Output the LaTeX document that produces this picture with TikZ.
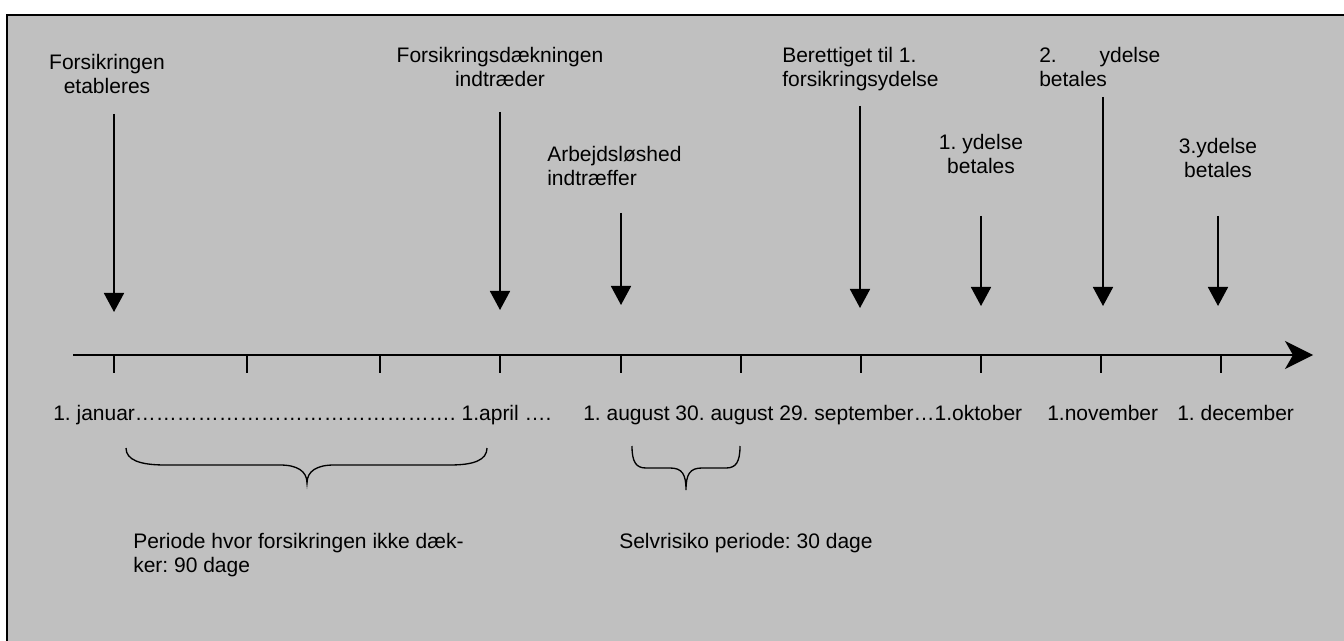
\documentclass[tikz,border=0pt]{standalone}
\usepackage{fontspec}
\setmainfont{Liberation Sans}
\usetikzlibrary{arrows.meta}
\definecolor{bggray}{HTML}{C0C0C0}
\frenchspacing
\newcommand\elp{…}
\begin{document}
\begin{tikzpicture}[x=0.75pt,y=-0.75pt,
  lbl/.style={font=\fontsize{15.75}{18}\selectfont\frenchspacing, inner sep=0pt, text=black},
  evarrow/.style={line width=1.3pt, -{Triangle[length=14.25pt,width=15pt]}},
  axis/.style={line width=1.3pt, -{Stealth[length=21pt,width=21pt,inset=6pt]}},
  tick/.style={line width=1.3pt},
  brace/.style={line width=1pt}
]
\useasboundingbox (0,0) rectangle (1344,641);
\fill[white] (0,0) rectangle (1344,641);
\fill[bggray] (7,15) rectangle (1344,641);
\draw[line width=1.6pt] (7,641) -- (7,15) -- (1344,15);

% axis
\coordinate (ax0) at (73,355);
\coordinate (ax1) at (1313,355);
\draw[axis] (ax0) -- (ax1);
\foreach \t in {114,247,380,500,621,741,861,981,1101,1221}{
  \draw[tick] (\t,355) -- (\t,373);
}

% event labels (base anchor = baseline of last line)
\node[lbl, align=center, anchor=base] (l1) at (107,94) {Forsikringen\\etableres};
\node[lbl, align=center, anchor=base] (l2) at (500,87) {Forsikringsdækningen\\indtræder};
\node[lbl, align=left, anchor=base west] (l3) at (547,186) {Arbejdsløshed\\indtræffer};
\node[lbl, align=left, anchor=base west] (l4) at (782,87) {Berettiget til 1.\\forsikringsydelse};
\node[lbl, align=center, anchor=base] (l5) at (981,174) {1. ydelse\\betales};
\node[lbl, align=left, anchor=base west] (l6) at (1039,87) {\makebox[90.75pt][l]{2.\hfill ydelse}\\betales};
\node[lbl, align=center, anchor=base] (l7) at (1218,178) {3.ydelse\\betales};

% event arrows
\coordinate (a1s) at (114,114); \coordinate (a1e) at (114,312);
\coordinate (a2s) at (500,112); \coordinate (a2e) at (500,310);
\coordinate (a3s) at (621,213); \coordinate (a3e) at (621,305);
\coordinate (a4s) at (860,106); \coordinate (a4e) at (860,308);
\coordinate (a5s) at (981,216); \coordinate (a5e) at (981,306);
\coordinate (a6s) at (1103,97); \coordinate (a6e) at (1103,306);
\coordinate (a7s) at (1218,216); \coordinate (a7e) at (1218,306);
\foreach \i in {1,...,7}{ \draw[evarrow] (a\i s) -- (a\i e); }

% dates
\node[lbl, anchor=base west] (d1) at (53,420) {1. januar\elp\elp\elp\elp\elp\elp\elp\elp\elp\elp\elp\elp\elp\elp\elp. 1.april \elp.};
\node[lbl, anchor=base west] (d2) at (583,420) {1. august 30. august 29. september\elp 1.oktober};
\node[lbl, anchor=base west] (d3) at (1047,420) {1.november};
\node[lbl, anchor=base west] (d4) at (1177,420) {1. december};

% braces
\draw[brace] (126,448) .. controls (126,460) and (140,465) .. (165,465) -- (280,465)
  .. controls (297,465) and (307,471) .. (307,483)
  .. controls (307,471) and (317,465) .. (334,465) -- (450,465)
  .. controls (474,465) and (487,460) .. (487,448);
\draw[brace] (632,446) .. controls (632,462) and (636,468) .. (646,468) -- (670,468)
  .. controls (682,468) and (686,474) .. (686,490)
  .. controls (686,474) and (690,468) .. (702,468) -- (726,468)
  .. controls (736,468) and (740,462) .. (740,446);

% period texts
\node[lbl, align=left, anchor=base west] (p1) at (133,572) {Periode hvor forsikringen ikke dæk-\\ker: 90 dage};
\node[lbl, anchor=base west] (p2) at (619,548) {Selvrisiko periode: 30 dage};
\end{tikzpicture}
\end{document}
